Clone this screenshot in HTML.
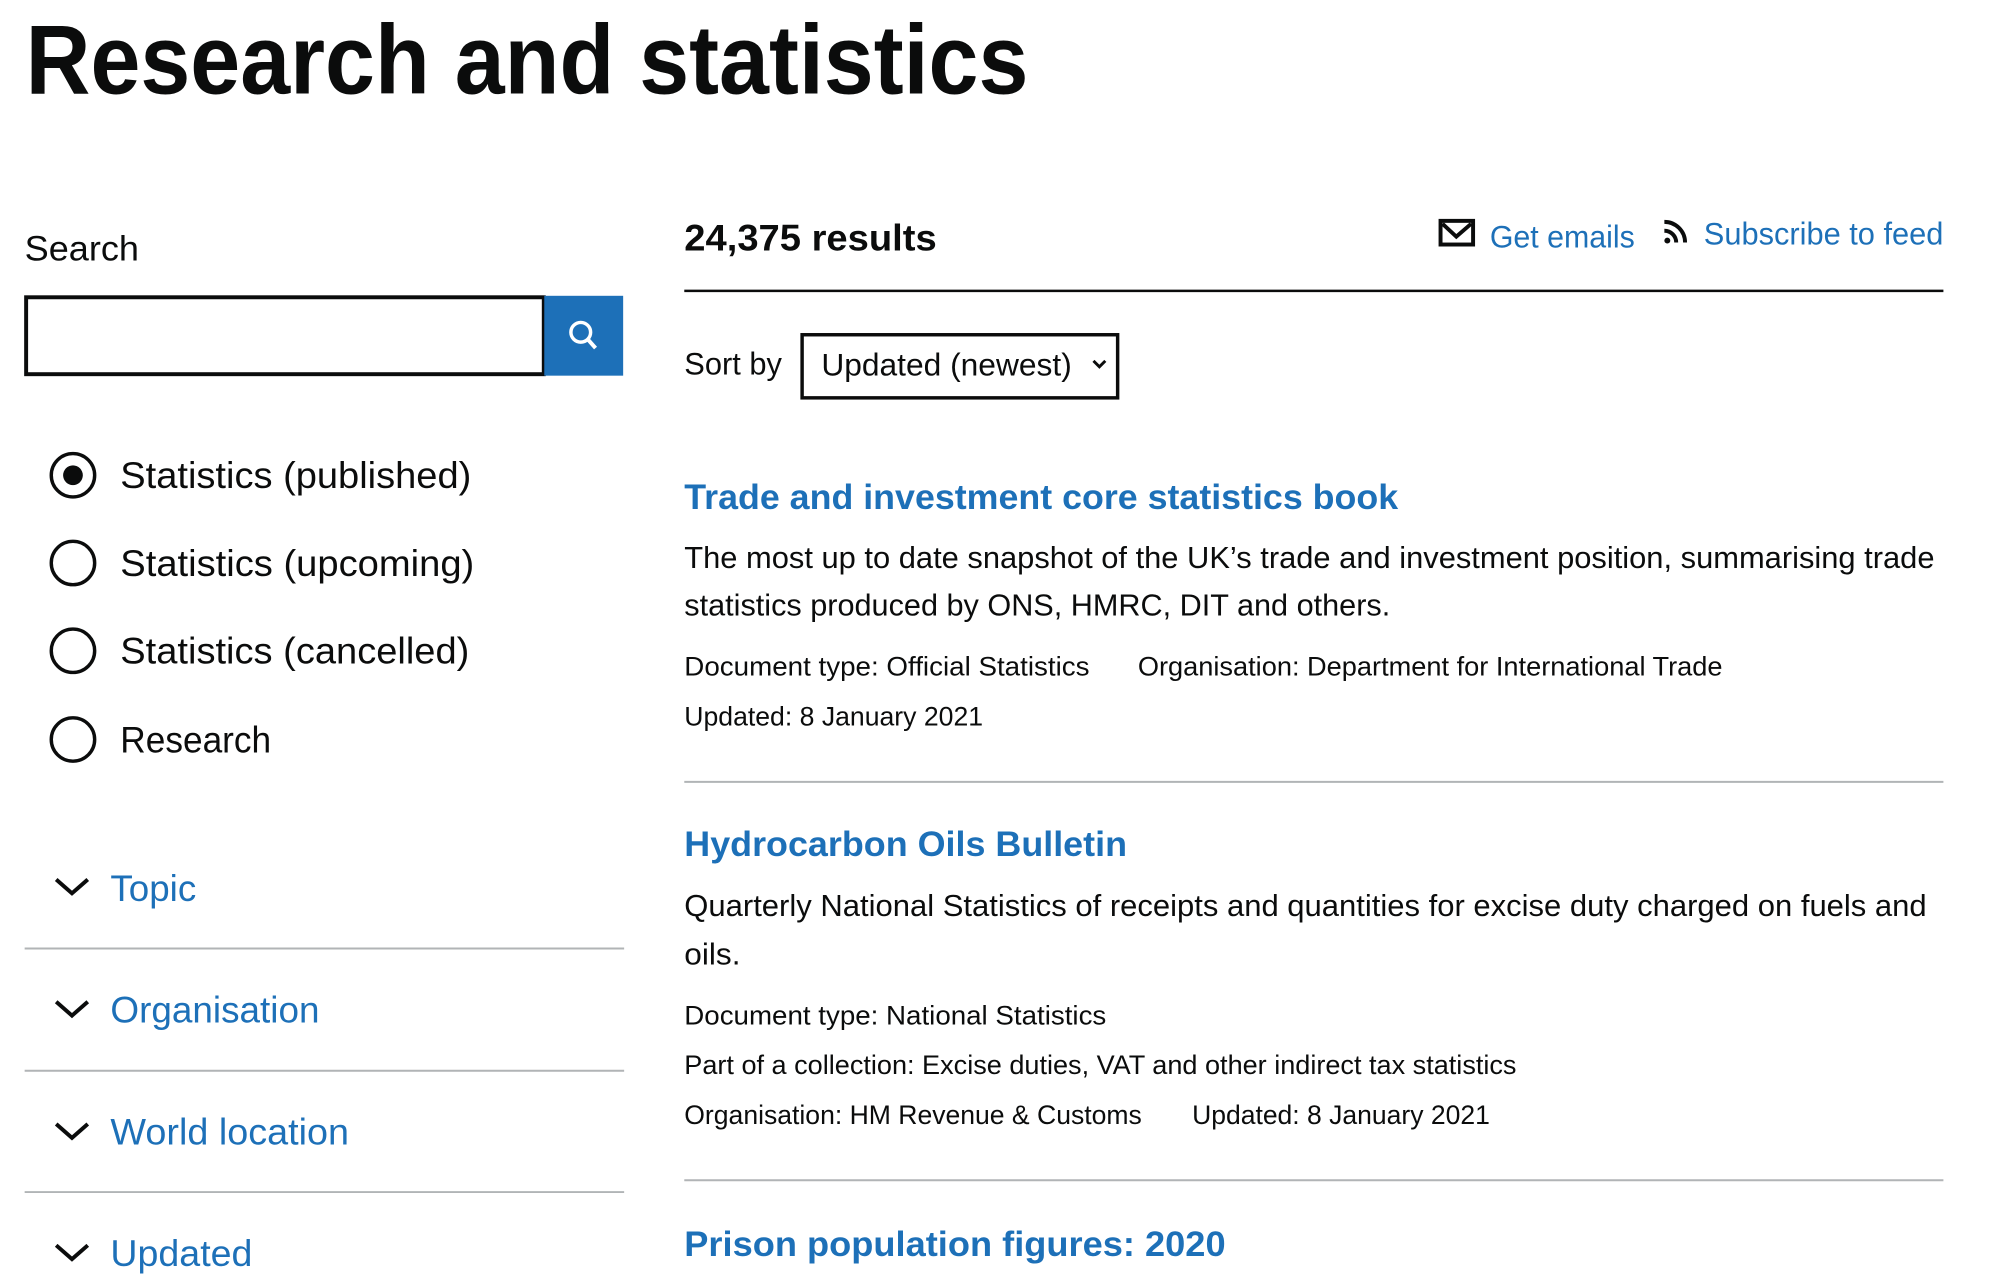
<!DOCTYPE html>
<html><head><meta charset="utf-8"><style>
html,body{margin:0;padding:0;background:#fff;}
svg{display:block;}
text{font-family:"Liberation Sans",sans-serif;fill:#0b0c0c;}
.b{fill:#1d70b8;}
</style></head><body>
<svg width="2010" height="1282" viewBox="0 0 2010 1282">
<g transform="scale(0.986)">
<text x="26" y="95" font-size="100" font-weight="bold" textLength="1017" lengthAdjust="spacingAndGlyphs">Research and statistics</text>

<text x="25" y="264" font-size="36" textLength="116" lengthAdjust="spacingAndGlyphs">Search</text>
<rect x="26.5" y="301.5" width="525" height="78" fill="#fff" stroke="#0b0c0c" stroke-width="4"/>
<g>
<rect x="552" y="300" width="80" height="81" fill="#1d70b8"/>
<circle cx="589" cy="337" r="10" fill="none" stroke="#fff" stroke-width="3.5"/>
<line x1="596" y1="344" x2="604" y2="353" stroke="#fff" stroke-width="4"/>
</g>

<g>
<circle cx="74" cy="482" r="22" fill="none" stroke="#0b0c0c" stroke-width="3.5"/>
<circle cx="74" cy="482" r="10" fill="#0b0c0c"/>
<text x="122" y="495" font-size="38" textLength="356" lengthAdjust="spacingAndGlyphs">Statistics (published)</text></g>
<g>
<circle cx="74" cy="571" r="22" fill="none" stroke="#0b0c0c" stroke-width="3.5"/>
<text x="122" y="584" font-size="38" textLength="359" lengthAdjust="spacingAndGlyphs">Statistics (upcoming)</text></g>
<g>
<circle cx="74" cy="660" r="22" fill="none" stroke="#0b0c0c" stroke-width="3.5"/>
<text x="122" y="673" font-size="38" textLength="354" lengthAdjust="spacingAndGlyphs">Statistics (cancelled)</text></g>
<g>
<circle cx="74" cy="750" r="22" fill="none" stroke="#0b0c0c" stroke-width="3.5"/>
<text x="122" y="763" font-size="38" textLength="153" lengthAdjust="spacingAndGlyphs">Research</text></g>

<g fill="none" stroke="#0b0c0c" stroke-width="4">
<polyline points="57,892 73,906 89,892"/>
<polyline points="57,1016 73,1030 89,1016"/>
<polyline points="57,1140 73,1154 89,1140"/>
<polyline points="57,1263 73,1277 89,1263"/>
</g>
<text class="b" x="112" y="914" font-size="38" textLength="87" lengthAdjust="spacingAndGlyphs">Topic</text>
<text class="b" x="112" y="1037" font-size="38" textLength="212" lengthAdjust="spacingAndGlyphs">Organisation</text>
<text class="b" x="112" y="1161" font-size="38" textLength="242" lengthAdjust="spacingAndGlyphs">World location</text>
<text class="b" x="112" y="1284" font-size="38" textLength="144" lengthAdjust="spacingAndGlyphs">Updated</text>
<g stroke="#b1b4b6" stroke-width="2">
<line x1="25" y1="962" x2="633" y2="962"/>
<line x1="25" y1="1086" x2="633" y2="1086"/>
<line x1="25" y1="1209" x2="633" y2="1209"/>
</g>

<text x="694" y="254" font-size="38" font-weight="bold" textLength="256" lengthAdjust="spacingAndGlyphs">24,375 results</text>
<g>
<rect x="1461" y="224" width="33" height="24" fill="none" stroke="#0b0c0c" stroke-width="4"/>
<polyline points="1463,227 1477,240 1492,227" fill="none" stroke="#0b0c0c" stroke-width="4"/>
</g>
<text class="b" x="1511" y="251" font-size="32" textLength="147" lengthAdjust="spacingAndGlyphs">Get emails</text>
<g fill="none" stroke="#0b0c0c" stroke-width="4">
<circle cx="1691" cy="244" r="3" fill="#0b0c0c" stroke="none"/>
<path d="M1688,234 A12,12 0 0 1 1700,246"/>
<path d="M1688,225 A21,21 0 0 1 1709,246"/>
</g>
<text class="b" x="1728" y="248" font-size="32" textLength="243" lengthAdjust="spacingAndGlyphs">Subscribe to feed</text>
<line x1="694" y1="295" x2="1971" y2="295" stroke="#0b0c0c" stroke-width="2.5"/>

<text x="694" y="380" font-size="32" textLength="99" lengthAdjust="spacingAndGlyphs">Sort by</text>
<g>
<rect x="813.5" y="339.5" width="320" height="64" fill="#fff" stroke="#0b0c0c" stroke-width="3.5"/>
<text x="833" y="381" font-size="32" textLength="254" lengthAdjust="spacingAndGlyphs">Updated (newest)</text>
<polyline points="1109,366 1115,372 1121,366" fill="none" stroke="#0b0c0c" stroke-width="3"/>
</g>

<text class="b" x="694" y="516" font-size="36" font-weight="bold" textLength="724" lengthAdjust="spacingAndGlyphs">Trade and investment core statistics book</text>
<text font-size="31">
<tspan x="694" y="576" textLength="1268" lengthAdjust="spacingAndGlyphs">The most up to date snapshot of the UK’s trade and investment position, summarising trade</tspan>
<tspan x="694" y="624" textLength="716" lengthAdjust="spacingAndGlyphs">statistics produced by ONS, HMRC, DIT and others.</tspan></text>
<text x="694" y="685" font-size="27" textLength="411" lengthAdjust="spacingAndGlyphs">Document type: Official Statistics</text>
<text x="1154" y="685" font-size="27" textLength="593" lengthAdjust="spacingAndGlyphs">Organisation: Department for International Trade</text>
<text x="694" y="736" font-size="27" textLength="303" lengthAdjust="spacingAndGlyphs">Updated: 8 January 2021</text>
<line x1="694" y1="793" x2="1971" y2="793" stroke="#b1b4b6" stroke-width="2"/>

<text class="b" x="694" y="868" font-size="36" font-weight="bold" textLength="449" lengthAdjust="spacingAndGlyphs">Hydrocarbon Oils Bulletin</text>
<text font-size="31">
<tspan x="694" y="929" textLength="1260" lengthAdjust="spacingAndGlyphs">Quarterly National Statistics of receipts and quantities for excise duty charged on fuels and</tspan>
<tspan x="694" y="978" textLength="57" lengthAdjust="spacingAndGlyphs">oils.</tspan></text>
<text x="694" y="1039" font-size="27" textLength="428" lengthAdjust="spacingAndGlyphs">Document type: National Statistics</text>
<text x="694" y="1089" font-size="27" textLength="844" lengthAdjust="spacingAndGlyphs">Part of a collection: Excise duties, VAT and other indirect tax statistics</text>
<text x="694" y="1140" font-size="27" textLength="464" lengthAdjust="spacingAndGlyphs">Organisation: HM Revenue &amp; Customs</text>
<text x="1209" y="1140" font-size="27" textLength="302" lengthAdjust="spacingAndGlyphs">Updated: 8 January 2021</text>
<line x1="694" y1="1197" x2="1971" y2="1197" stroke="#b1b4b6" stroke-width="2"/>

<text class="b" x="694" y="1274" font-size="36" font-weight="bold" textLength="549" lengthAdjust="spacingAndGlyphs">Prison population figures: 2020</text>
</g>
</svg>
</body></html>
